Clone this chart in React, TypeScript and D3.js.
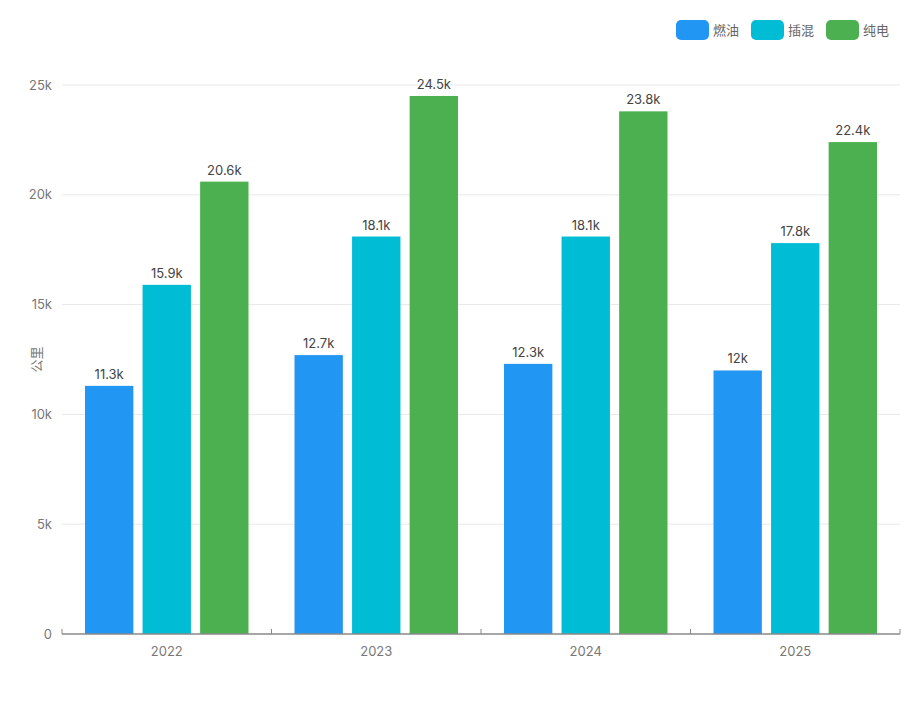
import React from "react";
import * as d3 from "d3";

const years = ["2022", "2023", "2024", "2025"];
const seriesNames = ["燃油", "插混", "纯电"];
const fuel = [11300, 12700, 12300, 12000];
const phev = [15900, 18100, 18100, 17800];
const bev = [20600, 24500, 23800, 22400];
const labels = [
  ["11.3k", "12.7k", "12.3k", "12k"],
  ["15.9k", "18.1k", "18.1k", "17.8k"],
  ["20.6k", "24.5k", "23.8k", "22.4k"],
];
const yTicks = [0, 5000, 10000, 15000, 20000, 25000];
const colors = ["#2196F3", "#00BCD4", "#4CAF50"];

const width = 920;
const height = 708;
const margin = { top: 85, right: 20, bottom: 74, left: 62 };
const font = "Inter, 'Noto Sans CJK SC', sans-serif";

export default function App() {
  const values = [fuel, phev, bev];
  const x = d3
    .scaleBand()
    .domain(years)
    .range([margin.left, width - margin.right]);
  const inner = d3
    .scaleBand()
    .domain(seriesNames)
    .range([23, x.bandwidth() - 23])
    .paddingInner(0.16);
  const y = d3
    .scaleLinear()
    .domain([0, 25000])
    .range([height - margin.bottom, margin.top]);

  const fmt = (v: number) => (v === 0 ? "0" : `${v / 1000}k`);

  return (
    <svg
      width={width}
      height={height}
      style={{ position: "absolute", left: 0, top: 0, background: "#fff" }}
      fontFamily={font}
    >
      {/* grid */}
      {yTicks.slice(1).map((t) => (
        <line
          key={t}
          x1={margin.left}
          x2={width - margin.right}
          y1={y(t)}
          y2={y(t)}
          stroke="#e8e8e8"
        />
      ))}
      {yTicks.map((t) => (
        <text
          key={t}
          x={margin.left - 10}
          y={y(t)}
          dy="0.35em"
          textAnchor="end"
          fontSize={13}
          fill="#777"
        >
          {fmt(t)}
        </text>
      ))}
      <text
        transform={`translate(36, ${(margin.top + height - margin.bottom) / 2}) rotate(-90)`}
        textAnchor="middle"
        fontSize={13}
        fill="#777"
        dy="0.35em"
      >
        公里
      </text>

      {/* bars */}
      {years.map((yr, i) => (
        <g key={yr} transform={`translate(${x(yr)},0)`}>
          {seriesNames.map((s, j) => (
            <g key={s}>
              <rect
                x={inner(s)}
                y={y(values[j][i])}
                width={inner.bandwidth()}
                height={y(0) - y(values[j][i])}
                fill={colors[j]}
              />
              <text
                x={(inner(s) as number) + inner.bandwidth() / 2}
                y={y(values[j][i]) - 7}
                textAnchor="middle"
                fontSize={13}
                fill="#444"
              >
                {labels[j][i]}
              </text>
            </g>
          ))}
        </g>
      ))}

      {/* x axis */}
      <line
        x1={margin.left}
        x2={width - margin.right}
        y1={y(0)}
        y2={y(0)}
        stroke="#888"
        strokeWidth={1.5}
      />
      {years.map((yr) => (
        <line
          key={yr}
          x1={x(yr)}
          x2={x(yr)}
          y1={y(0)}
          y2={y(0) - 5}
          stroke="#888"
        />
      ))}
      <line
        x1={width - margin.right}
        x2={width - margin.right}
        y1={y(0)}
        y2={y(0) - 5}
        stroke="#888"
      />
      {years.map((yr) => (
        <text
          key={yr}
          x={(x(yr) as number) + x.bandwidth() / 2}
          y={y(0) + 22}
          textAnchor="middle"
          fontSize={13}
          fill="#777"
        >
          {yr}
        </text>
      ))}

      {/* legend */}
      {seriesNames.map((s, j) => {
        const lx = 676 + j * 75;
        return (
          <g key={s}>
            <rect x={lx} y={20} width={33} height={20} rx={5} fill={colors[j]} />
            <text x={lx + 37} y={30} dy="0.35em" fontSize={13} fill="#666">
              {s}
            </text>
          </g>
        );
      })}
    </svg>
  );
}
